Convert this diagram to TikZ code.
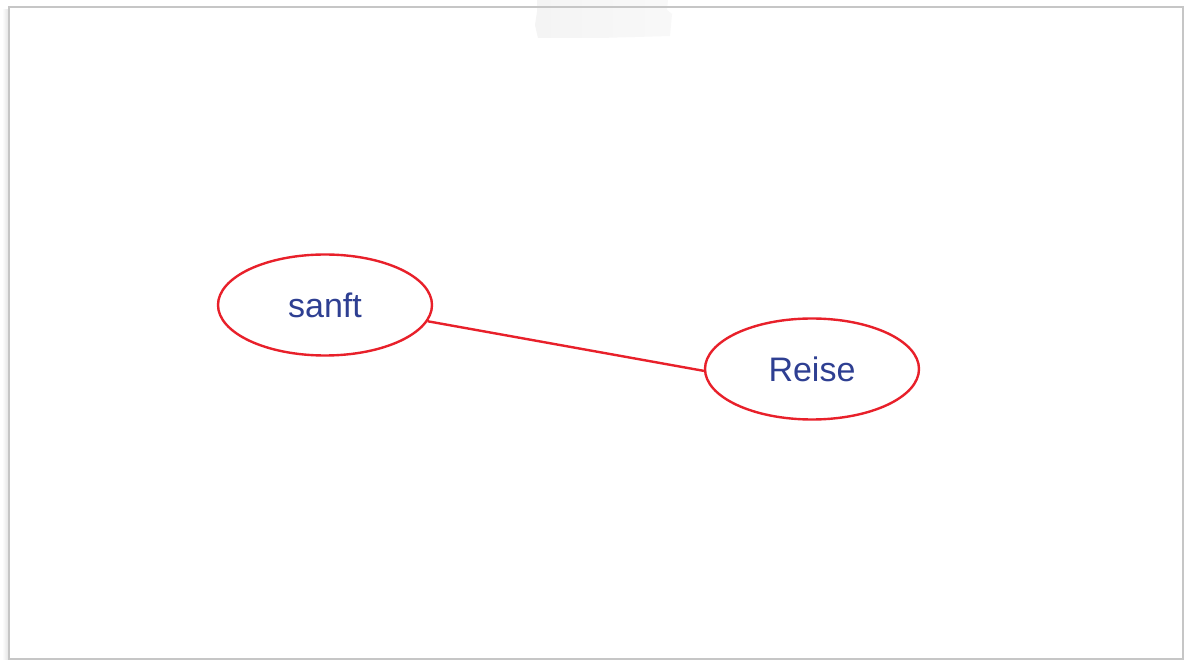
\documentclass[tikz,border=0pt]{standalone}
\usepackage{fontspec}
\setmainfont{Liberation Sans}
\usetikzlibrary{shapes.geometric}
\definecolor{inkblue}{HTML}{2E3F92}
\definecolor{penred}{HTML}{E8202A}
\definecolor{framegray}{HTML}{C6C6C6}
\definecolor{shadegray}{HTML}{E6E6E6}
\definecolor{tapegray}{HTML}{F4F4F4}
\tikzset{
  bubble/.style={ellipse, draw=penred, line width=2.4pt, fill=white,
    minimum width=214pt, minimum height=101pt, inner sep=0pt,
    text=inkblue, font=\fontsize{34}{34}\selectfont},
  link/.style={draw=penred, line width=2.4pt}
}
\begin{document}
\begin{tikzpicture}[x=1pt,y=-1pt]
  \useasboundingbox (0,0) rectangle (1187,660);
  % sheet with a soft shadow on its left side
  \shade[left color=white, right color=shadegray] (2,10) rectangle (8,660);
  \fill[white] (9,7) rectangle (1183,660);
  % strip of tape at the top edge
  \shade[left color=tapegray, right color=tapegray!60!white]
    (537,0) -- (668,0) -- (667,10) -- (672,14) -- (670,36)
    -- (600,38) -- (538,38) -- (535,25) -- (537,12) -- cycle;
  \draw[framegray, line width=1.6pt] (9,662) -- (9,7) -- (1183,7) -- (1183,662);
  \draw[framegray, line width=1.2pt] (9,659) -- (1183,659);
  % word bubbles
  \node[bubble] (sanft) at (325,305) {sanft};
  \node[bubble] (reise) at (812,369) {Reise};
  \draw[link] (sanft.-9) -- (reise.181);
\end{tikzpicture}
\end{document}
